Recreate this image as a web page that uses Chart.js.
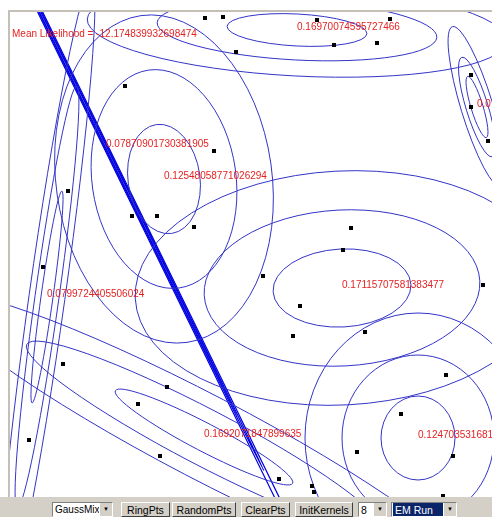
<!DOCTYPE html>
<html>
<head>
<meta charset="utf-8">
<script src="https://cdn.jsdelivr.net/npm/chart.js@4/dist/chart.umd.min.js"></script>
<style>
    body { margin: 0; width: 492px; height: 517px; overflow: hidden; background: #fff; position: relative; }
    #plot { position: absolute; left: 0; top: 0; }
    #toolbar { position: absolute; left: 0; top: 497px; width: 492px; height: 20px; background: #d4d0c8; }
    .btn, .sel { position: absolute; top: 5px; height: 15px; box-sizing: border-box;
        font: 10.5px "Liberation Sans", Arial, sans-serif; line-height: 14px; color: #000; white-space: nowrap; overflow: hidden; }
    .btn { background: #d4d0c8; border: 1px solid; border-color: #fff #404040 #404040 #fff; text-align: center; }
    .sel { background: #fff; border: 1px solid; border-color: #808080 #fff #fff #808080; padding-left: 2px; }
    .sel .arr { position: absolute; right: 0; top: 0; width: 12px; height: 13px; background: #d4d0c8;
        border-left: 1px solid #fff; font-size: 6px; text-align: center; line-height: 13px; }
    .sel .hi { background: #0a246a; color: #fff; padding: 0 2px; display: inline-block; width: 46px; }
</style>
</head>
<body>
<canvas id="plot" width="492" height="497"></canvas>
<div id="toolbar">
    <div class="sel" style="left:52px;width:61px;font-size:10px">GaussMix<span class="arr">&#9660;</span></div>
    <div class="btn" style="left:121px;width:49px">RingPts</div>
    <div class="btn" style="left:172px;width:64px">RandomPts</div>
    <div class="btn" style="left:241px;width:49px">ClearPts</div>
    <div class="btn" style="left:295px;width:58px">InitKernels</div>
    <div class="sel" style="left:358px;width:29px">8<span class="arr">&#9660;</span></div>
    <div class="sel" style="left:391px;width:66px;padding-left:1px"><span class="hi">EM Run</span><span class="arr">&#9660;</span></div>
</div>
<script>
// data points (picture coordinates)
const ptX = [205, 223, 236, 125, 317, 390, 334, 377, 471, 471, 214, 68, 132, 157, 194, 43, 488, 351, 343,
    263, 300, 483, 63, 167, 138, 29, 160, 293, 365, 446, 401, 357, 453, 279, 312, 314, 443];
const ptY = [18, 17, 52, 86, 20, 19, 45, 43, 75, 107, 151, 191, 216, 216, 227, 267, 141, 228, 250,
    276, 306, 285, 364, 387, 404, 440, 456, 336, 332, 375, 414, 452, 456, 479, 486, 492, 496];

// gaussian kernels: means, weights and three contour ellipses each
const meanX = [297, 106, 164, 342, 47, 204, 418, 477];
const meanY = [30, 147, 179, 288, 297, 437, 438, 107];
const weights = ['0.16970074595727466', '0.07870901730381905', '0.12548058771026294', '0.17115707581383477',
    '0.0799724405506024', '0.1692071847899635', '0.12470353168114', '0.07963115640926'];
const axisU = [[70, 140, 210], [0.7, 1.4, 2.3], [36, 72, 108], [69, 138, 207], [6, 12, 18], [100, 200, 300], [37, 76, 113], [6, 11, 16]];
const axisV = [[16, 30, 46], [300, 360, 900], [55, 110, 165], [39, 78, 117], [107, 213, 320], [14, 28, 42], [42, 83, 125], [32, 52, 84]];
const tilt = [3, -26, -8, -3, 8, 27.6, 0, -17];
const likelihood = 'Mean Likelihood = -12.174839932698474';

const lineColor = '#3434c8';
const textColor = '#e42222';

const kernelPlugin = {
    id: 'kernels',
    beforeDraw(chart) {
        const {ctx, chartArea: a} = chart;
        ctx.save();
        ctx.fillStyle = '#fff';
        ctx.fillRect(0, 0, chart.width, chart.height);
        ctx.strokeStyle = '#c4c0b8';
        ctx.lineWidth = 2;
        ctx.beginPath();
        ctx.moveTo(chart.width, a.top - 1);
        ctx.lineTo(a.left - 1, a.top - 1);
        ctx.lineTo(a.left - 1, a.bottom + 1);
        ctx.lineTo(chart.width, a.bottom + 1);
        ctx.stroke();
        ctx.restore();
    },
    beforeDatasetsDraw(chart) {
        const {ctx, chartArea: a, scales: {x, y}} = chart;
        ctx.save();
        ctx.beginPath();
        ctx.rect(a.left, a.top, a.right - a.left, a.bottom - a.top);
        ctx.clip();
        meanX.forEach((mx, k) => {
            const px = x.getPixelForValue(mx);
            const py = y.getPixelForValue(meanY[k]);
            // the collapsed kernel is drawn darker, like the reference
            ctx.strokeStyle = k === 1 ? '#0000e0' : lineColor;
            ctx.lineWidth = k === 1 ? 1.2 : 1;
            for (let l = 0; l < 3; l++) {
                const rx = Math.abs(x.getPixelForValue(mx + axisU[k][l]) - px);
                const ry = Math.abs(y.getPixelForValue(meanY[k] + axisV[k][l]) - py);
                ctx.beginPath();
                ctx.ellipse(px, py, rx, ry, tilt[k] * Math.PI / 180, 0, 2 * Math.PI);
                ctx.stroke();
            }
        });
        ctx.restore();
    },
    afterDraw(chart) {
        const {ctx, chartArea: a, scales: {x, y}} = chart;
        ctx.save();
        ctx.beginPath();
        ctx.rect(a.left, a.top, a.right - a.left, a.bottom - a.top);
        ctx.clip();
        ctx.fillStyle = textColor;
        ctx.font = '10px "Liberation Sans", Arial, sans-serif';
        ctx.textBaseline = 'alphabetic';
        meanX.forEach((mx, k) => {
            ctx.fillText(weights[k], x.getPixelForValue(mx), y.getPixelForValue(meanY[k]));
        });
        ctx.fillText(likelihood, a.left + 2, a.top + 25);
        ctx.restore();
    }
};

const ctx = document.getElementById('plot');

new Chart(ctx, {
    type: 'scatter',
    data: {
        datasets: [{
            label: 'points',
            data: ptX.map((v, i) => ({x: v, y: ptY[i]})),
            pointStyle: 'rect',
            pointRadius: 2.83,
            pointHoverRadius: 2.83,
            borderWidth: 0,
            backgroundColor: '#000',
            borderColor: '#000'
        }]
    },
    options: {
        responsive: false,
        animation: false,
        devicePixelRatio: 1,
        layout: {
            autoPadding: false,
            padding: {left: 10, top: 12, right: 0, bottom: 0}
        },
        scales: {
            x: {type: 'linear', min: 10, max: 492, display: false},
            y: {type: 'linear', min: 12, max: 497, reverse: true, display: false}
        },
        plugins: {
            legend: {display: false},
            tooltip: {enabled: false}
        },
        events: []
    },
    plugins: [kernelPlugin]
});
</script>
</body>
</html>
